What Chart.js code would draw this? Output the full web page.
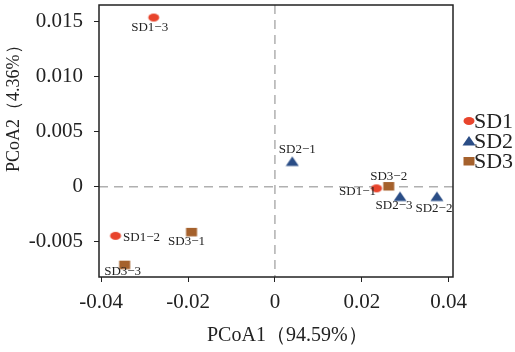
<!DOCTYPE html>
<html>
<head>
<meta charset="utf-8">
<script src="https://cdn.jsdelivr.net/npm/chart.js@4.4.0/dist/chart.umd.min.js"></script>
<style>
  html, body { margin: 0; padding: 0; background: #fff; }
  canvas { display: block; }
</style>
</head>
<body>
<canvas id="pcoaChart" width="515" height="352"></canvas>
<script>
// PCoA sample coordinates
const groups = ['SD1', 'SD2', 'SD3'];
const sd1Names = ['SD1−1', 'SD1−2', 'SD1−3'];
const sd1X = [0.0234, -0.0367, -0.0279];
const sd1Y = [-0.00015, -0.00446, 0.01536];
const sd2Names = ['SD2−1', 'SD2−2', 'SD2−3'];
const sd2X = [0.0040, 0.0373, 0.0288];
const sd2Y = [0.00229, -0.00089, -0.00089];
const sd3Names = ['SD3−1', 'SD3−2', 'SD3−3'];
const sd3X = [-0.0192, 0.0262, -0.0346];
const sd3Y = [-0.0041, 0.00006, -0.00708];

// Tick labels
const xTicks = [-0.04, -0.02, 0, 0.02, 0.04];
const xTickLabels = ['-0.04', '-0.02', '0', '0.02', '0.04'];
const yTicks = [-0.005, 0, 0.005, 0.010, 0.015];
const yTickLabels = ['-0.005', '0', '0.005', '0.010', '0.015'];

// Axis titles
const xTitle = 'PCoA1（94.59%）';
const yTitle = 'PCoA2（4.36%）';

// Label offsets (px) for each sample label: [dx, dy, align]
const labelPlacement = {
    'SD1−1': [-19, 3, 'center'],
    'SD1−2': [26, 2, 'center'],
    'SD1−3': [-4, 10, 'center'],
    'SD2−1': [5, -12, 'center'],
    'SD2−2': [-3, 12, 'center'],
    'SD2−3': [-6, 9, 'center'],
    'SD3−1': [-5, 10, 'center'],
    'SD3−2': [0, -9, 'center'],
    'SD3−3': [-2, 7, 'center']
};

const colors = ['#e8442c', '#2a4d86', '#a5612c'];
const serif = '"Liberation Serif", "Times New Roman", serif';

// Build marker images
function makeMarker(kind, color) {
    const c = document.createElement('canvas');
    c.width = 14;
    c.height = 12;
    const g = c.getContext('2d');
    g.fillStyle = color;
    g.beginPath();
    if (kind === 'ellipse') {
        g.ellipse(7, 6, 5.5, 4, 0, 0, Math.PI * 2);
    } else if (kind === 'triangle') {
        g.moveTo(7, 1);
        g.lineTo(13.5, 10.5);
        g.lineTo(0.5, 10.5);
        g.closePath();
    } else {
        g.rect(1.5, 2, 11, 8.5);
    }
    g.fill();
    return c;
}

const markers = [
    makeMarker('ellipse', colors[0]),
    makeMarker('triangle', colors[1]),
    makeMarker('square', colors[2])
];

function toPoints(xs, ys, names) {
    return xs.map((x, i) => ({ x: x, y: ys[i], name: names[i] }));
}

// Plugin: zero lines, frame, point labels, axis titles and legend
const decorations = {
    id: 'decorations',
    beforeDatasetsDraw(chart) {
        const { ctx, chartArea: a, scales: { x, y } } = chart;
        ctx.save();
        ctx.strokeStyle = '#b0b0b0';
        ctx.lineWidth = 1.5;
        ctx.setLineDash([9, 6]);
        const x0 = x.getPixelForValue(0);
        const y0 = y.getPixelForValue(0);
        ctx.beginPath();
        ctx.moveTo(x0, a.top);
        ctx.lineTo(x0, a.bottom);
        ctx.moveTo(a.left, y0);
        ctx.lineTo(a.right, y0);
        ctx.stroke();
        ctx.setLineDash([]);
        ctx.strokeStyle = '#222';
        ctx.lineWidth = 1.5;
        ctx.strokeRect(a.left, a.top, a.right - a.left, a.bottom - a.top);
        ctx.restore();
    },
    afterDatasetsDraw(chart) {
        const { ctx, chartArea: a } = chart;
        ctx.save();
        ctx.font = '13px ' + serif;
        ctx.fillStyle = '#222';
        ctx.textBaseline = 'middle';
        chart.data.datasets.forEach((ds, di) => {
            const meta = chart.getDatasetMeta(di);
            meta.data.forEach((pt, i) => {
                const name = ds.data[i].name;
                const p = labelPlacement[name] || [0, 10, 'center'];
                ctx.textAlign = p[2];
                ctx.fillText(name, pt.x + p[0], pt.y + p[1]);
            });
        });

        // legend
        ctx.font = '22px ' + serif;
        ctx.textAlign = 'left';
        groups.forEach((gname, i) => {
            const ly = 121 + i * 20;
            ctx.drawImage(markers[i], a.right + 9, ly - 6);
            ctx.fillText(gname, a.right + 21, ly + 1);
        });

        // axis titles
        ctx.font = '20px ' + serif;
        ctx.fillText(xTitle, a.left + 108, a.bottom + 59);
        ctx.translate(14, a.top + 167);
        ctx.rotate(-Math.PI / 2);
        ctx.font = '18px ' + serif;
        ctx.fillText(yTitle, 0, 0);
        ctx.restore();
    }
};

const ctx = document.getElementById('pcoaChart').getContext('2d');

const pcoaChart = new Chart(ctx, {
    type: 'scatter',
    data: {
        datasets: [
            { label: groups[0], data: toPoints(sd1X, sd1Y, sd1Names), pointStyle: markers[0] },
            { label: groups[1], data: toPoints(sd2X, sd2Y, sd2Names), pointStyle: markers[1] },
            { label: groups[2], data: toPoints(sd3X, sd3Y, sd3Names), pointStyle: markers[2] }
        ]
    },
    options: {
        responsive: false,
        animation: false,
        layout: {
            padding: { top: 1, right: 62, left: 0, bottom: 0 }
        },
        plugins: {
            legend: { display: false },
            tooltip: { enabled: false }
        },
        scales: {
            x: {
                type: 'linear',
                min: -0.0405,
                max: 0.041,
                afterFit: function(scale) {
                    scale.height = 75;
                    scale.paddingLeft = 0;
                    scale.paddingRight = 0;
                },
                afterBuildTicks: function(scale) {
                    scale.ticks = xTicks.map(v => ({ value: v }));
                },
                ticks: {
                    color: '#222',
                    padding: 8,
                    font: { family: serif, size: 21 },
                    callback: function(value) {
                        const i = xTicks.findIndex(t => Math.abs(t - value) < 1e-9);
                        return i >= 0 ? xTickLabels[i] : '';
                    }
                },
                grid: {
                    drawOnChartArea: false,
                    drawTicks: true,
                    tickLength: 5,
                    color: '#222'
                },
                border: { display: false }
            },
            y: {
                type: 'linear',
                min: -0.0082,
                max: 0.0165,
                afterFit: function(scale) {
                    scale.width = 99;
                    scale.paddingTop = 0;
                    scale.paddingBottom = 0;
                },
                afterBuildTicks: function(scale) {
                    scale.ticks = yTicks.map(v => ({ value: v }));
                },
                ticks: {
                    color: '#222',
                    padding: 11,
                    font: { family: serif, size: 21 },
                    callback: function(value) {
                        const i = yTicks.findIndex(t => Math.abs(t - value) < 1e-9);
                        return i >= 0 ? yTickLabels[i] : '';
                    }
                },
                grid: {
                    drawOnChartArea: false,
                    drawTicks: true,
                    tickLength: 5,
                    color: '#222'
                },
                border: { display: false }
            }
        }
    },
    plugins: [decorations]
});
</script>
</body>
</html>
